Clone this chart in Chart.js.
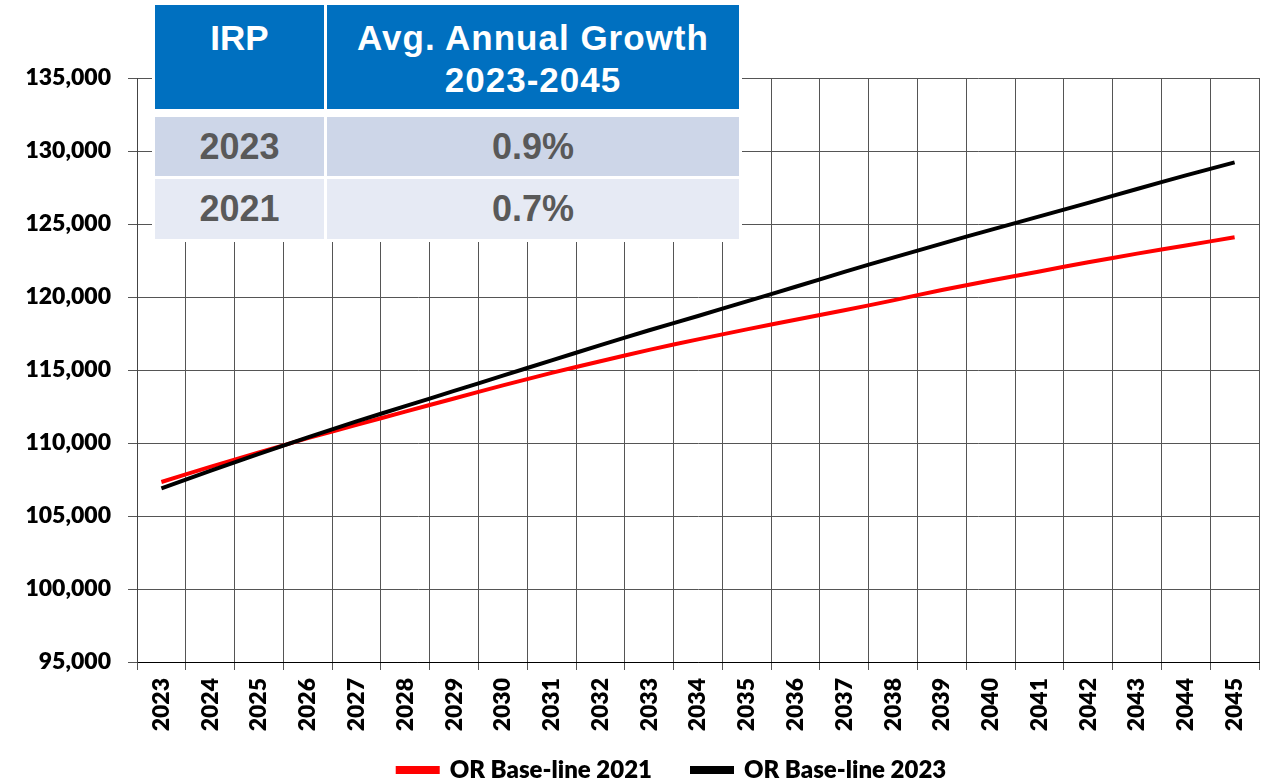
<!DOCTYPE html>
<html>
<head>
<meta charset="utf-8">
<script src="https://cdn.jsdelivr.net/npm/chart.js@4/dist/chart.umd.min.js"></script>
<style>
  body { margin: 0; background: #fff; }
  #wrap { position: relative; width: 1263px; height: 783px; }
  #irpTable { position: absolute; left: 152px; top: 0; width: 590px; height: 242px; background: #fff; font-family: 'Liberation Sans', Arial, sans-serif; font-weight: bold; }
  .cell { position: absolute; box-sizing: border-box; text-align: center; }
  .head { background: #0070C0; color: #fff; font-size: 35px; line-height: 42px; padding-top: 12px; }
  .r1 { background: #CDD6E8; color: #595959; font-size: 36px; line-height: 59px; }
  .r2 { background: #E6EAF4; color: #595959; font-size: 36px; line-height: 60px; }
</style>
</head>
<body>
<div id="wrap">
  <canvas id="loadChart" width="1263" height="783"></canvas>
  <div id="irpTable">
    <div class="cell head" style="left:3px;top:5px;width:169px;height:104px;">IRP</div>
    <div class="cell head" style="left:175px;top:5px;width:412px;height:104px;letter-spacing:1px;">Avg. Annual Growth<br>2023-2045</div>
    <div class="cell r1" style="left:3px;top:117px;width:169px;height:59px;">2023</div>
    <div class="cell r1" style="left:175px;top:117px;width:412px;height:59px;">0.9%</div>
    <div class="cell r2" style="left:3px;top:179px;width:169px;height:60px;">2021</div>
    <div class="cell r2" style="left:175px;top:179px;width:412px;height:60px;">0.7%</div>
  </div>
</div>
<script>
const years = ['2023', '2024', '2025', '2026', '2027', '2028', '2029', '2030', '2031', '2032', '2033', '2034',
    '2035', '2036', '2037', '2038', '2039', '2040', '2041', '2042', '2043', '2044', '2045'];
const baseline2021 = [107330, 108360, 109350, 110330, 111240, 112150, 113050, 113950, 114800, 115600, 116380, 117100,
    117780, 118440, 119090, 119770, 120480, 121130, 121750, 122380, 122970, 123530, 124090];
const baseline2023 = [106900, 108090, 109250, 110390, 111480, 112520, 113570, 114610, 115660, 116700, 117720, 118700,
    119700, 120700, 121720, 122700, 123660, 124600, 125520, 126450, 127400, 128330, 129220];
const seriesNames = ['OR Base-line 2021', 'OR Base-line 2023'];

const tickFont = { family: 'Lato, "Open Sans", sans-serif', size: 23, weight: 800 };
const gridColor = '#555555';

// nudge the legend up/left after layout (its padding also sets the gap between items)
const legendShift = {
    id: 'legendShift',
    afterLayout(chart) {
        chart.legend.top -= 17;
        chart.legend.bottom -= 17;
        chart.legend.left -= 26;
        chart.legend.right -= 26;
    }
};

const loadChart = document.getElementById('loadChart');
new Chart(loadChart, {
    type: 'line',
    data: {
        labels: years,
        datasets: [{
            label: seriesNames[0],
            data: baseline2021,
            borderColor: '#ff0000',
            backgroundColor: '#ff0000',
            borderWidth: 4,
            pointRadius: 0,
            tension: 0.2,
            order: 1
        }, {
            label: seriesNames[1],
            data: baseline2023,
            borderColor: '#000000',
            backgroundColor: '#000000',
            borderWidth: 4,
            pointRadius: 0,
            tension: 0.2,
            order: 0
        }]
    },
    options: {
        responsive: false,
        animation: false,
        layout: { padding: { top: 78, right: 4, left: 0, bottom: -26 } },
        scales: {
            x: {
                offset: true,
                grid: { color: gridColor, offset: true, tickLength: 8 },
                border: { color: '#000' },
                ticks: { color: '#000', font: tickFont, minRotation: 90, maxRotation: 90, padding: 8, autoSkip: false },
                afterFit: (scale) => {
                    scale.height = 73;
                    scale.paddingLeft = 0;
                    scale.paddingRight = 0;
                }
            },
            y: {
                min: 95000,
                max: 135000,
                grid: { color: gridColor, tickLength: 9 },
                border: { color: '#444' },
                ticks: {
                    color: '#000', font: tickFont, stepSize: 5000, padding: 17,
                    callback: (v) => v.toLocaleString('en-US')
                },
                afterFit: (scale) => { scale.width = 137; }
            }
        },
        plugins: {
            legend: {
                position: 'bottom',
                fullSize: false,
                labels: {
                    color: '#000',
                    font: { family: 'Lato, "Open Sans", sans-serif', size: 24, weight: 800 },
                    boxWidth: 40,
                    boxHeight: 4,
                    padding: 40,
                    sort: (a, b) => a.datasetIndex - b.datasetIndex
                }
            },
            tooltip: { enabled: false }
        }
    },
    plugins: [legendShift]
});
</script>
</body>
</html>
